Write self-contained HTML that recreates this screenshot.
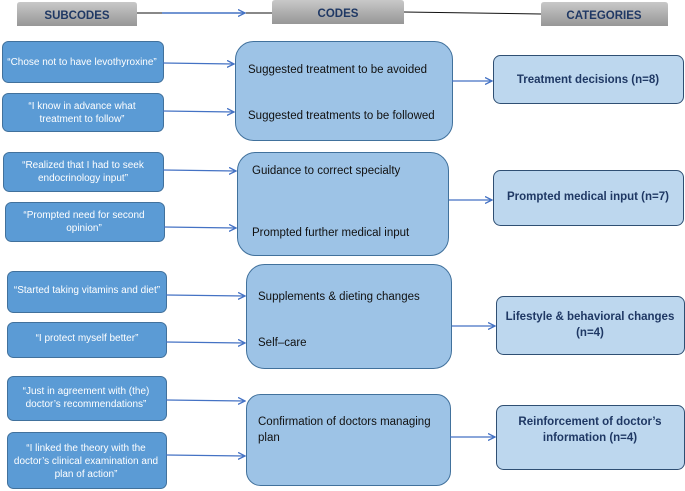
<!DOCTYPE html>
<html><head><meta charset="utf-8"><style>
html,body{margin:0;padding:0;background:#fff;}
svg{display:block}
.s{font-family:"Liberation Sans Narrow","Liberation Sans",sans-serif;font-size:10px;fill:#fff;text-anchor:middle}
.c{font-family:"Liberation Sans",sans-serif;font-size:11.5px;fill:#111}
.k{font-family:"Liberation Sans",sans-serif;font-size:11.5px;font-weight:bold;fill:#1f3864;text-anchor:middle}
.h{font-family:"Liberation Sans",sans-serif;font-size:11.5px;font-weight:bold;fill:#1f3864;text-anchor:middle}
</style></head><body>
<svg width="685" height="491" viewBox="0 0 685 491">
<defs>
<linearGradient id="g" x1="0" y1="0" x2="0" y2="1"><stop offset="0" stop-color="#c8c8c8"/><stop offset="1" stop-color="#979797"/></linearGradient>
<marker id="a" markerWidth="8" markerHeight="8" refX="7" refY="4" orient="auto" markerUnits="userSpaceOnUse"><path d="M0,0.5 L7,4 L0,7.5" fill="none" stroke="#4472c4" stroke-width="1.3"/></marker>
</defs>
<!-- header lines -->
<line x1="137" y1="13" x2="272" y2="13" stroke="#111" stroke-width="1"/>
<line x1="162" y1="13" x2="245" y2="13" stroke="#4472c4" stroke-width="1.5" marker-end="url(#a)"/>
<line x1="404" y1="12" x2="541" y2="14" stroke="#111" stroke-width="1"/>
<path d="M17,26 V5 Q17,2 20,2 H134 Q137,2 137,5 V26 Z" fill="url(#g)"/>
<path d="M208,24 V3 Q208,0 211,0 H280" fill="none"/>
<path d="M208,24 V3 Q208,0 211,0 H281 Q284,0 284,3 V24 Z" fill="url(#g)" transform="translate(0,0)" visibility="hidden"/>
<path d="M272,24 V3 Q272,0 275,0 H401 Q404,0 404,3 V24 Z" fill="url(#g)"/>
<path d="M541,26 V5 Q541,2 544,2 H665 Q668,2 668,5 V26 Z" fill="url(#g)"/>
<text class="h" x="77" y="19">SUBCODES</text>
<text class="h" x="338" y="17">CODES</text>
<text class="h" x="604" y="19">CATEGORIES</text>

<g fill="#5b9bd5" stroke="#41719c" stroke-width="1">
<rect x="2.5" y="41.5" width="161" height="41" rx="6"/>
<rect x="2.5" y="93.5" width="161" height="38" rx="6"/>
<rect x="3.5" y="152.5" width="160" height="39" rx="6"/>
<rect x="5.5" y="202.5" width="159" height="39" rx="6"/>
<rect x="7.5" y="271.5" width="159" height="41" rx="6"/>
<rect x="7.5" y="322.5" width="159" height="35" rx="6"/>
<rect x="7.5" y="376.5" width="159" height="44" rx="6"/>
<rect x="7.5" y="432.5" width="159" height="56" rx="6"/>
</g>
<g fill="#9dc3e6" stroke="#41719c" stroke-width="1">
<rect x="235.5" y="41.5" width="217" height="99" rx="18"/>
<rect x="237.5" y="152.5" width="211" height="103" rx="18"/>
<rect x="246.5" y="264.5" width="205" height="104" rx="18"/>
<rect x="246.5" y="394.5" width="204" height="91" rx="14"/>
</g>
<g fill="#bdd7ee" stroke="#2f4f73" stroke-width="1">
<rect x="493.5" y="55.5" width="190" height="48" rx="7"/>
<rect x="493.5" y="170.5" width="190" height="55" rx="7"/>
<rect x="496.5" y="296.5" width="188" height="58" rx="7"/>
<rect x="496.5" y="405.5" width="188" height="64" rx="7"/>
</g>
<g stroke="#4472c4" stroke-width="1.3" marker-end="url(#a)">
<line x1="163" y1="63" x2="234" y2="64"/>
<line x1="163" y1="111" x2="234" y2="112"/>
<line x1="163" y1="170" x2="236" y2="171"/>
<line x1="164" y1="227" x2="236" y2="228"/>
<line x1="166" y1="295" x2="245" y2="296"/>
<line x1="166" y1="342" x2="245" y2="343"/>
<line x1="166" y1="400" x2="245" y2="401"/>
<line x1="166" y1="455" x2="245" y2="456"/>
<line x1="452" y1="81" x2="492" y2="81"/>
<line x1="449" y1="200" x2="492" y2="200"/>
<line x1="452" y1="326" x2="495" y2="326"/>
<line x1="450" y1="437" x2="495" y2="437"/>
</g>
<text class="s" x="82" y="65">“Chose not to have levothyroxine”</text>
<text class="s" x="82" y="109">“I know in advance what</text>
<text class="s" x="82" y="122">treatment to follow”</text>
<text class="s" x="83" y="168">“Realized that I had to seek</text>
<text class="s" x="83" y="181">endocrinology input”</text>
<text class="s" x="84" y="218">“Prompted need for second</text>
<text class="s" x="84" y="231">opinion”</text>
<text class="s" x="87" y="293">“Started taking vitamins and diet”</text>
<text class="s" x="87" y="341">“I protect myself better”</text>
<text class="s" x="86" y="394">“Just in agreement with (the)</text>
<text class="s" x="86" y="407">doctor’s recommendations”</text>
<text class="s" x="86" y="451">“I linked the theory with the</text>
<text class="s" x="86" y="464">doctor’s clinical examination and</text>
<text class="s" x="86" y="477">plan of action”</text>

<text class="c" x="248" y="73">Suggested treatment to be avoided</text>
<text class="c" x="248" y="119">Suggested treatments to be followed</text>
<text class="c" x="252" y="174">Guidance to correct specialty</text>
<text class="c" x="252" y="236">Prompted further medical input</text>
<text class="c" x="258" y="300">Supplements &amp; dieting changes</text>
<text class="c" x="258" y="346">Self–care</text>
<text class="c" x="258" y="425">Confirmation of doctors managing</text>
<text class="c" x="258" y="441">plan</text>

<text class="k" x="588" y="83">Treatment decisions (n=8)</text>
<text class="k" x="588" y="200">Prompted medical input (n=7)</text>
<text class="k" x="590" y="320">Lifestyle &amp; behavioral changes</text>
<text class="k" x="590" y="336">(n=4)</text>
<text class="k" x="590" y="425">Reinforcement of doctor’s</text>
<text class="k" x="590" y="441">information (n=4)</text>
</svg>
</body></html>
